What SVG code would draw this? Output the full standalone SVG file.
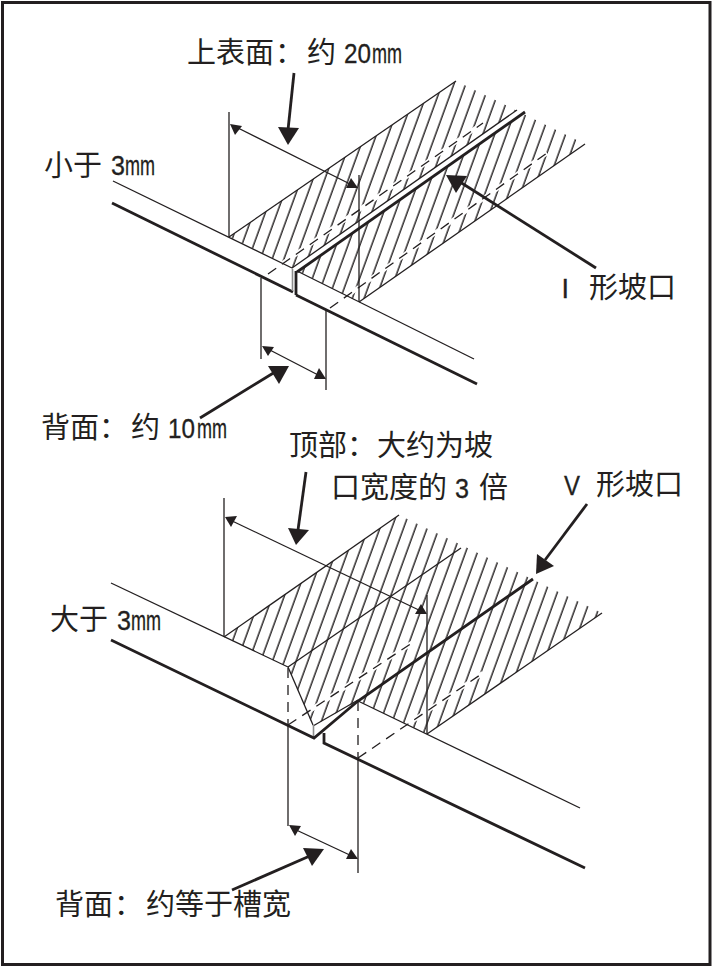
<svg xmlns="http://www.w3.org/2000/svg" width="715" height="968" viewBox="0 0 715 968">
<style>
.thin{fill:none;stroke:#231f20;stroke-width:1.3}
.thick{fill:none;stroke:#231f20;stroke-width:2.8}
.lead{fill:none;stroke:#231f20;stroke-width:2.8}
.dash{fill:none;stroke:#231f20;stroke-width:1.3;stroke-dasharray:10 7}
.halo{fill:none;stroke:#fff;stroke-width:4.500}
.grey{fill:none;stroke:#8c8c8c;stroke-width:1.6}
.head{fill:#231f20;stroke:none}
text{font-family:"Noto Sans CJK SC","Liberation Sans",sans-serif;font-size:29px;fill:#231f20}
.lat{font-family:"Liberation Sans","Noto Sans CJK SC",sans-serif;font-size:27px;stroke:#231f20;stroke-width:.3}
</style>
<defs>
<pattern id="h1" patternUnits="userSpaceOnUse" width="11.1" height="30" patternTransform="translate(230.800 237) rotate(20)">
<line x1="2" y1="0" x2="2" y2="30" stroke="#231f20" stroke-width="1.4"/>
</pattern>
<pattern id="h2" patternUnits="userSpaceOnUse" width="11.1" height="30" patternTransform="translate(231.900 637) rotate(20)">
<line x1="2" y1="0" x2="2" y2="30" stroke="#231f20" stroke-width="1.4"/>
</pattern>
</defs>
<rect x="2.5" y="2.5" width="707.5" height="962" fill="#fff" stroke="#231f20" stroke-width="3"/>

<g id="joint-i">
<polygon points="229,237 456,81 585,144 359,302 297,271 292,268" fill="url(#h1)"/>
<line class="halo" x1="266" y1="275" x2="483" y2="123"/>
<line class="halo" x1="330" y1="308" x2="547" y2="153"/>
<polygon points="292,268 517,110 525,112 297,271" fill="#fff"/>
<path class="dash" d="M268 274L483 123"/>
<path class="dash" d="M330 308L547 153"/>
<path class="thin" d="M113 181L292 268"/>
<path class="thin" d="M297 271L474 359"/>
<path class="thin" d="M229 237L456 81"/>
<path class="thin" d="M359 302L585 144"/>
<path class="thin" d="M292 268L517 110"/>
<path class="thick" d="M297 272L525 112"/>
<path class="thick" d="M112 203L293 292"/>
<path class="thick" d="M296 295L477 384"/>
<path class="thick" stroke-width="2" d="M296 271V295"/>
<path class="grey" d="M292.500 269V291"/>
</g>

<g id="joint-v">
<polygon points="224,637 399,515 602,613 427,734 358,701 313,726 288,667" fill="url(#h2)"/>
<line class="halo" x1="288" y1="725" x2="412" y2="643"/>
<line class="halo" x1="358" y1="758" x2="483" y2="673"/>
<path class="dash" d="M288 725L412 643"/>
<path class="dash" d="M358 758L483 673"/>
<path class="dash" d="M288 668V725"/>
<path class="dash" d="M358 701V758"/>
<path class="thin" d="M111 583L288 667"/>
<path class="thin" d="M358 701L580 808"/>
<path class="thin" d="M288 667L313 725"/>
<path class="thin" d="M224 637L399 515"/>
<path class="thin" d="M288 667L461 548"/>
<path class="thin" d="M427 734L602 613"/>
<path class="thin" d="M313 726L358 700"/>
<path class="grey" d="M313.500 725V737"/>
<path class="thick" d="M111 640L314 738L358 701L533 579"/>
<path class="thick" d="M324 733V743L585 868"/>
</g>

<g id="connectors">
<path class="thin" d="M229 112V237"/>
<path class="thin" d="M359 175V302"/>
<path class="thin" d="M234 126L354 186"/>
<polygon class="head" points="230,124 242,126 235,135"/>
<polygon class="head" points="358,188 346,188 351,178"/>
<path class="thin" d="M261 278V359"/>
<path class="thin" d="M326 310V390"/>
<path class="thin" d="M266 348L322 377"/>
<polygon class="head" points="262,346 274,347 268,356"/>
<polygon class="head" points="326,379 314,379 319,368"/>
<path class="lead" d="M294 73L288 130"/>
<polygon class="head" points="278,127 299,128 288,145"/>
<path class="lead" d="M200 418L275 372"/>
<polygon class="head" points="268,366 289,366 279,384"/>
<path class="lead" d="M596 268L460 182"/>
<polygon class="head" points="446,175 467,176 456,193"/>

<path class="thin" d="M224 498V637"/>
<path class="thin" d="M427 595V734"/>
<path class="thin" d="M228 519L423 612"/>
<polygon class="head" points="225,517 237,516 231,527"/>
<polygon class="head" points="427,614 415,614 421,604"/>
<path class="thin" d="M288 725V826"/>
<path class="thin" d="M358 758V873"/>
<path class="thin" d="M292 828L354 857"/>
<polygon class="head" points="289,825 301,826 295,836"/>
<polygon class="head" points="358,859 346,859 351,849"/>
<path class="lead" d="M306 472L298 530"/>
<polygon class="head" points="288,528 309,530 296,545"/>
<path class="lead" d="M587 504L545 560"/>
<polygon class="head" points="537,554 554,566 536,574"/>
<path class="lead" d="M232 890L312 855"/>
<polygon class="head" points="303,848 324,849 312,866"/>
</g>

<g id="labels">
<text y="63"><tspan x="187">上表面</tspan><tspan x="275">：</tspan><tspan x="307">约</tspan><tspan class="lat" x="344" textLength="27" lengthAdjust="spacingAndGlyphs">20</tspan><tspan class="lat" x="372" textLength="30" lengthAdjust="spacingAndGlyphs">mm</tspan></text>
<text y="176"><tspan x="44">小于</tspan><tspan class="lat" x="111" y="175" textLength="14" lengthAdjust="spacingAndGlyphs">3</tspan><tspan class="lat" x="125" y="175" textLength="30" lengthAdjust="spacingAndGlyphs">mm</tspan></text>
<text y="298"><tspan class="lat" x="561.500">I</tspan><tspan x="589">形坡口</tspan></text>
<text y="438"><tspan x="41">背面</tspan><tspan x="99">：</tspan><tspan x="131">约</tspan><tspan class="lat" x="168" textLength="27" lengthAdjust="spacingAndGlyphs">10</tspan><tspan class="lat" x="197" textLength="30" lengthAdjust="spacingAndGlyphs">mm</tspan></text>
<text y="456"><tspan x="289">顶部</tspan><tspan x="347">：</tspan><tspan x="377">大约为坡</tspan></text>
<text y="498"><tspan x="331">口宽度的</tspan><tspan class="lat" x="455" textLength="14" lengthAdjust="spacingAndGlyphs">3</tspan><tspan x="479">倍</tspan></text>
<text y="495"><tspan class="lat" x="564" textLength="16" lengthAdjust="spacingAndGlyphs">V</tspan><tspan x="596">形坡口</tspan></text>
<text y="630"><tspan x="50">大于</tspan><tspan class="lat" x="117" textLength="14" lengthAdjust="spacingAndGlyphs">3</tspan><tspan class="lat" x="131" textLength="30" lengthAdjust="spacingAndGlyphs">mm</tspan></text>
<text y="915"><tspan x="55">背面</tspan><tspan x="114">：</tspan><tspan x="146">约等于槽宽</tspan></text>
</g>
</svg>
